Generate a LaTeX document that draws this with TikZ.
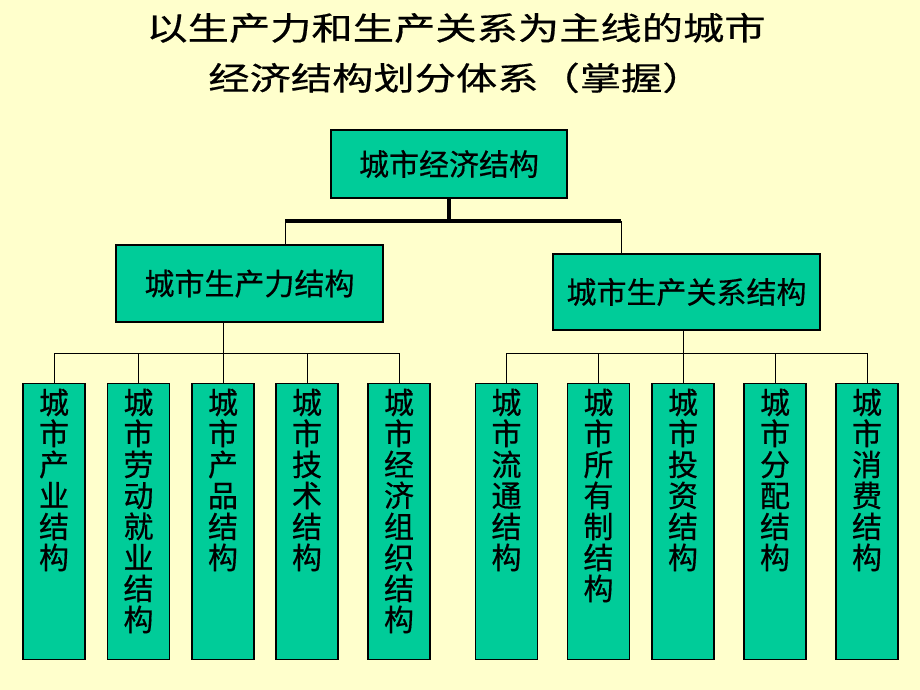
\documentclass[tikz,border=0pt]{standalone}
\usepackage{fontspec}
\setmainfont{Noto Sans CJK SC}[FakeBold=0.5]
\usepackage{graphicx}
\definecolor{slide-bg}{HTML}{FFFFCC}
\definecolor{box-green}{HTML}{00CC99}
\tikzset{
    econ-box/.style = {draw=black, fill=box-green, line width=1.2pt, rectangle, inner sep=0pt, font=\fontsize{30}{31}\selectfont},
    leaf-box/.style = {econ-box, anchor=north, inner xsep=16pt, inner ysep=5pt},
    title-text/.style = {font=\fontsize{32}{50}\selectfont, inner sep=0pt},
    trunk-line/.style = {line width=3.5pt},
    bus-line/.style = {line width=1pt},
}
\newcommand{\leaftext}[1]{\parbox[t][266pt][t]{30pt}{\centering #1}}

\begin{document}
\begin{tikzpicture}[x=1pt, y=-1pt]
\fill[slide-bg] (0,0) rectangle (920,690);
\useasboundingbox (0,0) rectangle (920,690);

\node[title-text] (title) at (456,55) {\scalebox{1.29}[1]{\begin{tabular}{@{}c@{}}以生产力和生产关系为主线的城市\\经济结构划分体系（掌握）\end{tabular}}};

\node[econ-box, minimum width=236pt, minimum height=68pt] (root) at (449,164) {城市经济结构};
\node[econ-box, minimum width=267pt, minimum height=77pt] (prod) at (249.5,283.5) {城市生产力结构};
\node[econ-box, minimum width=267pt, minimum height=76pt] (rel) at (686.5,292) {城市生产关系结构};

\node[leaf-box] (p1) at (54,383) {\leaftext{城\\市\\产\\业\\结\\构}};
\node[leaf-box] (p2) at (138.5,383) {\leaftext{城\\市\\劳\\动\\就\\业\\结\\构}};
\node[leaf-box] (p3) at (223,383) {\leaftext{城\\市\\产\\品\\结\\构}};
\node[leaf-box] (p4) at (307,383) {\leaftext{城\\市\\技\\术\\结\\构}};
\node[leaf-box] (p5) at (399,383) {\leaftext{城\\市\\经\\济\\组\\织\\结\\构}};
\node[leaf-box] (r1) at (506.5,383) {\leaftext{城\\市\\流\\通\\结\\构}};
\node[leaf-box] (r2) at (598.5,383) {\leaftext{城\\市\\所\\有\\制\\结\\构}};
\node[leaf-box] (r3) at (683,383) {\leaftext{城\\市\\投\\资\\结\\构}};
\node[leaf-box] (r4) at (775,383) {\leaftext{城\\市\\分\\配\\结\\构}};
\node[leaf-box] (r5) at (867,383) {\leaftext{城\\市\\消\\费\\结\\构}};

\coordinate (lbus) at (285,221);
\coordinate (rbus) at (621,221);
\draw[trunk-line] (root.south) -- (root.south |- lbus);
\draw[trunk-line] (lbus) -- (rbus);
\draw[bus-line] (lbus) -- (lbus |- prod.north);
\draw[bus-line] (rbus) -- (rbus |- rel.north);

\draw[bus-line] (prod.south -| p3.north) -- (p3.north);
\draw[bus-line] (p1.north) -- ++(0,-30) -| (p5.north);
\foreach \i in {2,4}
    \draw[bus-line] (p\i.north) -- ++(0,-30);
\draw[bus-line] (rel.south -| r3.north) -- (r3.north);
\draw[bus-line] (r1.north) -- ++(0,-30) -| (r5.north);
\foreach \i in {2,4}
    \draw[bus-line] (r\i.north) -- ++(0,-30);
\end{tikzpicture}
\end{document}
